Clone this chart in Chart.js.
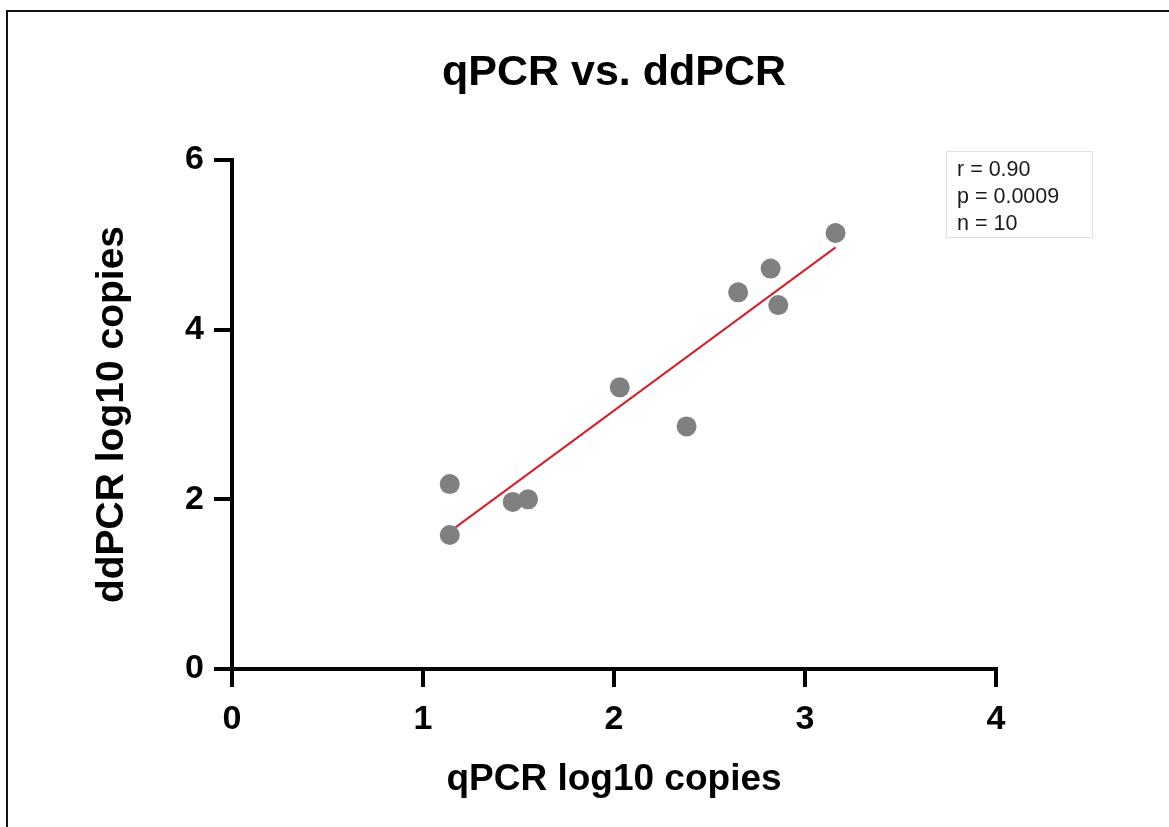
<!DOCTYPE html>
<html>
<head>
<meta charset="utf-8">
<script src="https://cdn.jsdelivr.net/npm/chart.js@4/dist/chart.umd.min.js"></script>
<style>
  html, body { margin: 0; padding: 0; background: #fff; }
  #wrap { position: relative; width: 1169px; height: 827px; overflow: hidden; background: #fff; }
  #frame { position: absolute; left: 6px; top: 10px; width: 1200px; height: 900px;
           border-top: 2px solid #111; border-left: 2px solid #111; }
  canvas { position: absolute; left: 0; top: 0; }
  #stats { position: absolute; left: 946px; top: 151px; width: 135px; height: 81px;
           border: 1px solid #e2e2e2; padding: 4px 0 0 10px;
           font-family: "Liberation Sans", Arial, sans-serif; font-size: 21.5px; line-height: 27px; color: #1a1a1a; }
</style>
</head>
<body>
<div id="wrap">
  <div id="frame"></div>
  <canvas id="c" width="1169" height="827"></canvas>
  <div id="stats"><div>r = 0.90</div><div>p = 0.0009</div><div>n = 10</div></div>
</div>
<script>
// ---- data ----
const qpcrLog10 = [1.14, 1.14, 1.47, 1.55, 2.03, 2.38, 2.65, 2.82, 2.86, 3.16];
const ddpcrLog10 = [2.18, 1.58, 1.97, 2.00, 3.32, 2.86, 4.44, 4.72, 4.29, 5.14];
const fitX = [1.14, 3.16];
const fitY = [1.62, 4.97];
const xTicks = [0, 1, 2, 3, 4];
const yTicks = [0, 2, 4, 6];
const chartTitle = 'qPCR vs. ddPCR';
const xTitle = 'qPCR log10 copies';
const yTitle = 'ddPCR log10 copies';

const FONT = '"Liberation Sans", Arial, Helvetica, sans-serif';
Chart.defaults.color = '#000';
Chart.defaults.font.family = FONT;

const points = qpcrLog10.map((x, i) => ({ x: x, y: ddpcrLog10[i] }));
const fitLine = fitX.map((x, i) => ({ x: x, y: fitY[i] }));

const axisGrid = {
  display: true, drawOnChartArea: false, drawTicks: true,
  tickLength: 18, tickWidth: 4, tickColor: '#000', lineWidth: 4, color: '#000'
};

new Chart(document.getElementById('c'), {
  type: 'scatter',
  data: {
    datasets: [
      { label: 'samples', data: points, backgroundColor: '#808080', borderWidth: 0,
        pointRadius: 10, pointHoverRadius: 10 },
      { label: 'fit', data: fitLine, showLine: true, borderColor: '#d3202d', borderWidth: 2,
        pointRadius: 0, pointHoverRadius: 0, fill: false }
    ]
  },
  options: {
    responsive: false,
    devicePixelRatio: 1,
    animation: false,
    layout: { padding: { left: 0, right: 173, top: 0, bottom: 0 } },
    plugins: {
      legend: { display: false },
      tooltip: { enabled: false },
      title: {
        display: true, text: chartTitle, fullSize: false, color: '#000',
        font: { size: 43, weight: 'bold', family: FONT, lineHeight: 1.2 },
        padding: { top: 47, bottom: 61.4 }
      }
    },
    scales: {
      x: {
        type: 'linear', min: 0, max: 4,
        afterBuildTicks: (s) => { s.ticks = xTicks.map(v => ({ value: v })); },
        afterFit: (s) => { s.height = 158; },
        border: { display: true, color: '#000', width: 4 },
        grid: axisGrid,
        ticks: { color: '#000', padding: 12, font: { size: 34, weight: 'bold', family: FONT }, maxRotation: 0 },
        title: { display: true, text: xTitle, color: '#000',
                 font: { size: 37, weight: 'bold', family: FONT, lineHeight: 1.2 },
                 padding: { top: 0, bottom: 25 } }
      },
      y: {
        type: 'linear', min: 0, max: 6,
        afterBuildTicks: (s) => { s.ticks = yTicks.map(v => ({ value: v })); },
        afterFit: (s) => { s.width = 232; },
        border: { display: true, color: '#000', width: 4 },
        grid: axisGrid,
        ticks: { color: '#000', padding: 10, font: { size: 34, weight: 'bold', family: FONT } },
        title: { display: true, text: yTitle, color: '#000',
                 font: { size: 39, weight: 'bold', family: FONT, lineHeight: 1.2 },
                 padding: { top: 89, bottom: 0 } }
      }
    }
  }
});
</script>
</body>
</html>
